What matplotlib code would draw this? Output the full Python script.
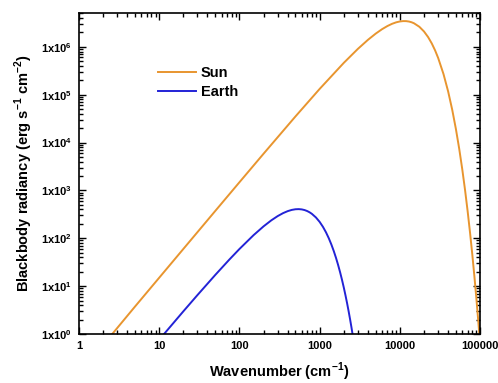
import math
import matplotlib
matplotlib.use("Agg")
import matplotlib.pyplot as plt
from matplotlib.ticker import FixedLocator, FuncFormatter, NullFormatter

plt.rcParams['font.family'] = ['Liberation Sans', 'DejaVu Sans']
plt.rcParams['font.weight'] = 'bold'
plt.rcParams['mathtext.fontset'] = 'custom'
plt.rcParams['mathtext.rm'] = 'Liberation Sans'
plt.rcParams['mathtext.bf'] = 'Liberation Sans:bold'

# blackbody radiancy (wavenumber in cm^-1)
sun_wn = [2.6, 5, 10, 20, 50, 100, 200, 500, 1000, 2000, 3000, 4000, 5000,
          6000, 7000, 8000, 9000, 10000, 11000, 12000, 13000, 14000, 15000,
          17500, 20000, 22500, 25000, 27500, 30000, 35000, 40000, 45000,
          50000, 55000, 60000, 65000, 70000, 75000, 80000, 85000, 90000,
          95000, 97800]
sun_rad = [1.0, 3.75, 14.98, 59.85, 372.7, 1481, 5852, 35220, 132200,
           463400, 909400, 1.403e6, 1.893e6, 2.343e6, 2.728e6, 3.036e6,
           3.259e6, 3.398e6, 3.459e6, 3.452e6, 3.385e6, 3.269e6, 3.116e6,
           2.631e6, 2.099e6, 1.602e6, 1.180e6, 8.440e5, 5.893e5, 2.705e5,
           1.168e5, 4.812e4, 1.908e4, 7349, 2758, 1015, 366.8, 130.4, 45.81,
           15.88, 5.456, 1.857, 1.0]

earth_wn = [11.5, 20, 30, 50, 75, 100, 150, 200, 250, 300, 350, 400, 450,
            500, 550, 600, 650, 700, 750, 800, 900, 1000, 1100, 1200, 1300,
            1400, 1500, 1600, 1700, 1800, 1900, 2000, 2100, 2200, 2300, 2400,
            2500, 2570]
earth_rad = [1.0, 2.973, 6.513, 17.14, 35.99, 59.63, 116.1, 177.5, 237.4,
             290.9, 335.3, 369.2, 391.9, 404.1, 406.7, 401.0, 388.4, 370.5,
             348.7, 324.3, 271.9, 220.2, 173.3, 133.2, 100.3, 74.21, 54.06,
             38.90, 27.63, 19.44, 13.55, 9.366, 6.424, 4.377, 2.963, 1.995,
             1.337, 1.0]

x_major = [1, 10, 100, 1000, 10000, 100000]
y_major = [1e0, 1e1, 1e2, 1e3, 1e4, 1e5, 1e6]

fig = plt.figure(figsize=(4.98, 3.83), dpi=100)
ax = fig.add_axes([0.1586, 0.128, 0.8054, 0.838])

ax.plot(sun_wn, sun_rad, color='#E8952F', lw=1.4, label='Sun')
ax.plot(earth_wn, earth_rad, color='#2323D6', lw=1.4, label='Earth')

ax.set_xscale('log')
ax.set_yscale('log')
ax.set_xlim(1, 100000)
ax.set_ylim(1, 5.1e6)

x_minor = [d * s for d in x_major[:-1] for s in range(2, 10)]
y_minor = [d * s for d in y_major for s in range(2, 10)]

ax.xaxis.set_major_locator(FixedLocator(x_major))
ax.xaxis.set_major_formatter(FuncFormatter(lambda v, p: '%d' % round(v)))
ax.xaxis.set_minor_locator(FixedLocator(x_minor))
ax.xaxis.set_minor_formatter(NullFormatter())

ax.yaxis.set_major_locator(FixedLocator(y_major))
ax.yaxis.set_major_formatter(FuncFormatter(
    lambda v, p: r'$\mathbf{1x10^{%d}}$' % round(math.log10(v))))
ax.yaxis.set_minor_locator(FixedLocator(y_minor))
ax.yaxis.set_minor_formatter(NullFormatter())

ax.tick_params(which='both', direction='in', top=True, right=True, width=1.0)
ax.tick_params(which='major', length=5, pad=5, labelsize=8)
ax.tick_params(which='minor', length=3)
for s in ax.spines.values():
    s.set_linewidth(1.2)

ax.set_xlabel('Wavenumber (cm$^{\\mathbf{-1}}$)', fontsize=10.5, fontweight='bold',
              labelpad=7)
ax.set_ylabel('Blackbody radiancy (erg s$^{\\mathbf{-1}}$ cm$^{\\mathbf{-2}}$)',
              fontsize=10.5, fontweight='bold', labelpad=4)

ax.legend(loc='upper left', bbox_to_anchor=(0.165, 0.875), frameon=False,
          fontsize=10.5, handlelength=2.6, handletextpad=0.3, labelspacing=0.3)

fig.savefig('out.png', dpi=100)
